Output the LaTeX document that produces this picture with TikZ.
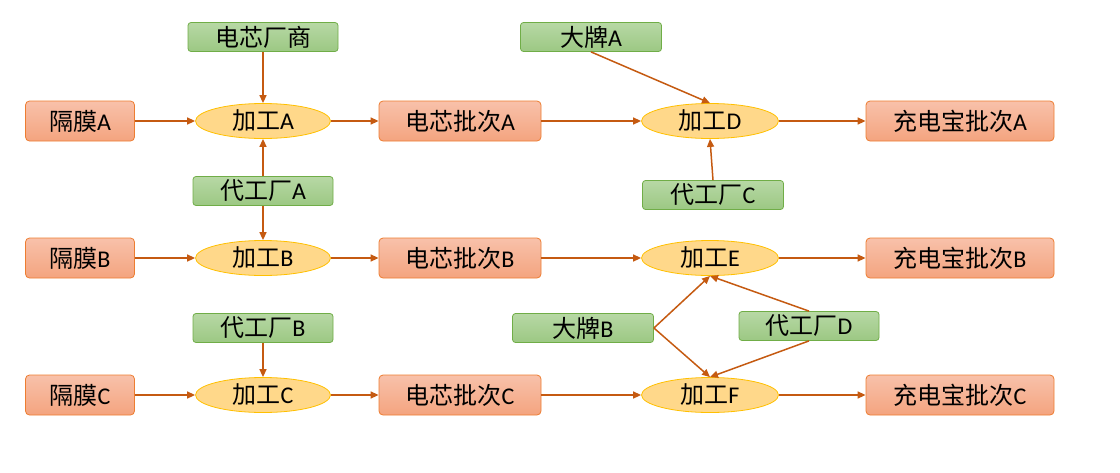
\documentclass[tikz,border=0pt]{standalone}
\usepackage{fontspec}
\setmainfont{Carlito}
\newfontfamily\cjk{Noto Sans CJK SC}
\usetikzlibrary{arrows.meta,shapes.geometric}
\definecolor{orB}{HTML}{ED7D31}
\definecolor{orT}{HTML}{F8C1AA}
\definecolor{orL}{HTML}{F4A47F}
\definecolor{grB}{HTML}{70AD47}
\definecolor{grT}{HTML}{B7D8A5}
\definecolor{grL}{HTML}{9CC883}
\definecolor{elB}{HTML}{FFC000}
\definecolor{elF}{HTML}{FFD88A}
\definecolor{arr}{HTML}{C55A11}
\begin{document}
\begin{tikzpicture}[x=1pt,y=-1pt,
  every node/.style={font=\fontsize{24}{28}\selectfont,inner sep=0pt},
  orbox/.style={rectangle,rounded corners=4pt,draw=orB,line width=0.8pt,top color=orT,bottom color=orL,minimum height=40pt},
  grbox/.style={rectangle,rounded corners=3pt,draw=grB,line width=0.8pt,top color=grT,bottom color=grL,minimum height=29pt},
  proc/.style={ellipse,draw=elB,line width=0.8pt,fill=elF,minimum width=135pt,minimum height=35pt},
  conn/.style={draw=arr,line width=1.5pt,-{Triangle[length=8pt,width=7pt]}}]
\useasboundingbox (0,0) rectangle (1120,472);
% suppliers
\node[grbox,minimum width=150pt] (cellmaker) at (263,37) {{\cjk 电芯厂商}};
\node[grbox,minimum width=140pt] (oemA) at (263,191) {{\cjk 代工厂}A};
\node[grbox,minimum width=140pt] (oemB) at (263,328) {{\cjk 代工厂}B};
\node[grbox,minimum width=141pt] (brandA) at (591,37) {{\cjk 大牌}A};
\node[grbox,minimum width=141pt] (oemC) at (713,195) {{\cjk 代工厂}C};
\node[grbox,minimum width=141pt] (brandB) at (583,328) {{\cjk 大牌}B};
\node[grbox,minimum width=140pt] (oemD) at (809,326) {{\cjk 代工厂}D};
% row A
\node[orbox,minimum width=109pt] (sepA) at (80,121) {{\cjk 隔膜}A};
\node[proc] (procA) at (263,121) {{\cjk 加工}A};
\node[orbox,minimum width=162pt] (cellA) at (460,121) {{\cjk 电芯批次}A};
\node[proc,minimum width=137pt] (procD) at (710,121) {{\cjk 加工}D};
\node[orbox,minimum width=188pt] (packA) at (960,121) {{\cjk 充电宝批次}A};
% row B
\node[orbox,minimum width=109pt] (sepB) at (80,258) {{\cjk 隔膜}B};
\node[proc] (procB) at (263,258) {{\cjk 加工}B};
\node[orbox,minimum width=162pt] (cellB) at (460,258) {{\cjk 电芯批次}B};
\node[proc,minimum width=137pt] (procE) at (710,258) {{\cjk 加工}E};
\node[orbox,minimum width=188pt] (packB) at (960,258) {{\cjk 充电宝批次}B};
% row C
\node[orbox,minimum width=109pt] (sepC) at (80,395) {{\cjk 隔膜}C};
\node[proc] (procC) at (263,395) {{\cjk 加工}C};
\node[orbox,minimum width=162pt] (cellC) at (460,395) {{\cjk 电芯批次}C};
\node[proc,minimum width=137pt] (procF) at (710,395) {{\cjk 加工}F};
\node[orbox,minimum width=188pt] (packC) at (960,395) {{\cjk 充电宝批次}C};
% connectors
\foreach \r/\p/\c/\q/\k in {A/A/A/D/A,B/B/B/E/B,C/C/C/F/C}{
  \draw[conn] (sep\r.east) -- (proc\p.west);
  \draw[conn] (proc\p.east) -- (cell\c.west);
  \draw[conn] (cell\c.east) -- (proc\q.west);
  \draw[conn] (proc\q.east) -- (pack\k.west);
}
\draw[conn] (cellmaker.south) -- (procA.north);
\draw[conn] (oemA.north) -- (procA.south);
\draw[conn] (oemA.south) -- (procB.north);
\draw[conn] (oemB.south) -- (procC.north);
\draw[conn] (brandA.south) -- (procD.north);
\draw[conn] (oemC.north) -- (procD.south);
\draw[conn] (brandB.east) -- (procE.south);
\draw[conn] (brandB.east) -- (procF.north);
\draw[conn] (oemD.north) -- (procE.south);
\draw[conn] (oemD.south) -- (procF.north);
\end{tikzpicture}
\end{document}
